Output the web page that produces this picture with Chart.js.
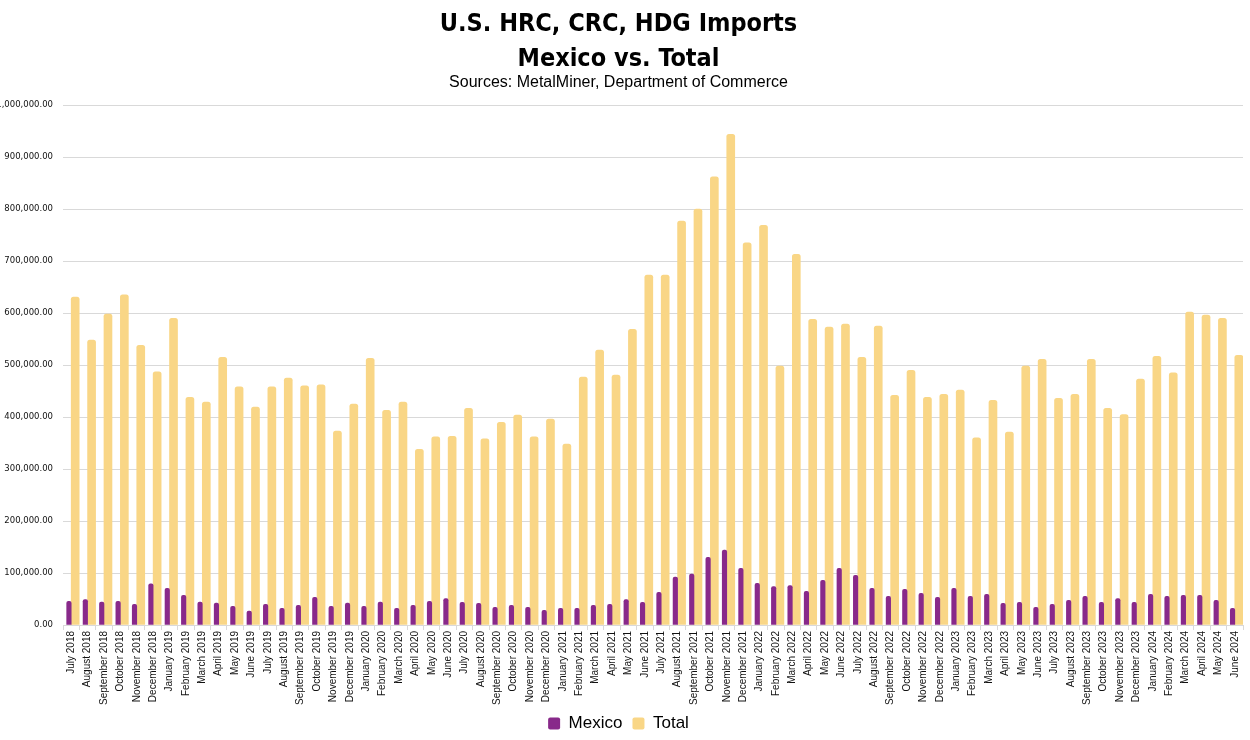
<!DOCTYPE html>
<html>
<head>
<meta charset="utf-8">
<script src="https://cdn.jsdelivr.net/npm/chart.js"></script>
<style>
    html, body { margin: 0; padding: 0; background: #fff; overflow: hidden; }
    #wrap { position: absolute; left: -6px; top: 0; width: 1256px; height: 740px; }
</style>
</head>
<body>
<div id="wrap"><canvas id="imports"></canvas></div>
<script>
// months, July 2018 .. June 2024
const months = [
    'July 2018', 'August 2018', 'September 2018', 'October 2018', 'November 2018', 'December 2018',
    'January 2019', 'February 2019', 'March 2019', 'April 2019', 'May 2019', 'June 2019',
    'July 2019', 'August 2019', 'September 2019', 'October 2019', 'November 2019', 'December 2019',
    'January 2020', 'February 2020', 'March 2020', 'April 2020', 'May 2020', 'June 2020',
    'July 2020', 'August 2020', 'September 2020', 'October 2020', 'November 2020', 'December 2020',
    'January 2021', 'February 2021', 'March 2021', 'April 2021', 'May 2021', 'June 2021',
    'July 2021', 'August 2021', 'September 2021', 'October 2021', 'November 2021', 'December 2021',
    'January 2022', 'February 2022', 'March 2022', 'April 2022', 'May 2022', 'June 2022',
    'July 2022', 'August 2022', 'September 2022', 'October 2022', 'November 2022', 'December 2022',
    'January 2023', 'February 2023', 'March 2023', 'April 2023', 'May 2023', 'June 2023',
    'July 2023', 'August 2023', 'September 2023', 'October 2023', 'November 2023', 'December 2023',
    'January 2024', 'February 2024', 'March 2024', 'April 2024', 'May 2024', 'June 2024'
];

const mexico = [
    45500, 49000, 44000, 45500, 40000, 79000,
    70500, 57000, 44000, 42000, 36000, 27000,
    40000, 32000, 38000, 53000, 36000, 42000,
    36000, 44000, 32000, 38000, 45500, 51000,
    43500, 41700, 34000, 38000, 34000, 28000,
    32000, 32000, 38000, 40000, 49000, 43500,
    63000, 92000, 98000, 130000, 144000, 109000,
    80000, 74000, 76000, 65000, 86000, 109000,
    95500, 70500, 55000, 68600, 61000, 53000,
    70500, 55000, 59000, 41700, 43500, 34000,
    40000, 47400, 55000, 43500, 51000, 43500,
    59000, 55000, 57000, 57000, 47400, 32000
];

const total = [
    631000, 548000, 598000, 635000, 538000, 487000,
    590000, 438000, 429000, 515000, 458000, 419000,
    458000, 475000, 460000, 462000, 373000, 425000,
    513000, 413000, 429000, 338000, 362000, 363000,
    417000, 358000, 390000, 404000, 362000, 396000,
    348000, 477000, 529000, 481000, 569000, 673000,
    673000, 777000, 800000, 862000, 944000, 735000,
    769000, 498000, 713000, 588000, 573000, 579000,
    515000, 575000, 442000, 490000, 438000, 444000,
    452000, 360000, 432000, 371000, 498000, 511000,
    436000, 444000, 511000, 417000, 405000, 473000,
    517000, 485000, 602000, 596000, 590000, 519000
];

const yTicks = { min: 0, max: 1000000, step: 100000 };

const fmt = new Intl.NumberFormat('en-US', { minimumFractionDigits: 2, maximumFractionDigits: 2 });

const ctx = document.getElementById('imports').getContext('2d');
const importsChart = new Chart(ctx, {
    type: 'bar',
    data: {
        labels: months,
        datasets: [{
            label: 'Mexico',
            data: mexico,
            backgroundColor: '#88298a',
            barThickness: 4.5,
            borderRadius: { topLeft: 2, topRight: 2 },
            borderSkipped: 'bottom'
        }, {
            label: 'Total',
            data: total,
            backgroundColor: '#f9d686',
            barThickness: 8,
            borderRadius: { topLeft: 2.5, topRight: 2.5 },
            borderSkipped: 'bottom'
        }]
    },
    options: {
        responsive: true,
        maintainAspectRatio: false,
        animation: false,
        layout: { padding: { top: 2, right: 7, bottom: -2, left: 0 } },
        scales: {
            x: {
                afterFit: function (scale) { scale.height = 80; },
                grid: {
                    drawOnChartArea: false,
                    color: '#d9d9d9',
                    tickLength: 5,
                    offset: true
                },
                border: { color: '#d9d9d9' },
                ticks: {
                    autoSkip: false,
                    minRotation: 90,
                    maxRotation: 90,
                    padding: 1,
                    color: '#111',
                    font: { family: 'Liberation Sans', size: 10 }
                }
            },
            y: {
                min: yTicks.min,
                max: yTicks.max,
                afterFit: function (scale) { scale.width = 69; },
                grid: { color: '#d9d9d9', tickLength: 0 },
                border: { display: false },
                ticks: {
                    stepSize: yTicks.step,
                    padding: 10,
                    color: '#111',
                    font: { family: 'DejaVu Sans', size: 8.5 },
                    callback: function (v) { return fmt.format(v); }
                }
            }
        },
        plugins: {
            title: {
                display: true,
                text: ['U.S. HRC, CRC, HDG Imports', 'Mexico vs. Total'],
                color: '#000',
                font: { family: "'Liberation Sans Narrow', 'DejaVu Sans Condensed', sans-serif", size: 25, weight: 'bold', lineHeight: 1.4 },
                padding: { top: 5, bottom: 0 }
            },
            subtitle: {
                display: true,
                text: 'Sources: MetalMiner, Department of Commerce',
                color: '#000',
                font: { family: 'Liberation Sans', size: 16, lineHeight: 1.2 },
                padding: { top: -4, bottom: 13 }
            },
            legend: {
                position: 'bottom',
                labels: {
                    boxWidth: 12,
                    boxHeight: 12,
                    useBorderRadius: true,
                    borderRadius: 2,
                    padding: 10,
                    color: '#000',
                    font: { family: 'Liberation Sans', size: 17 }
                }
            },
            tooltip: { enabled: false }
        }
    }
});
</script>
</body>
</html>
